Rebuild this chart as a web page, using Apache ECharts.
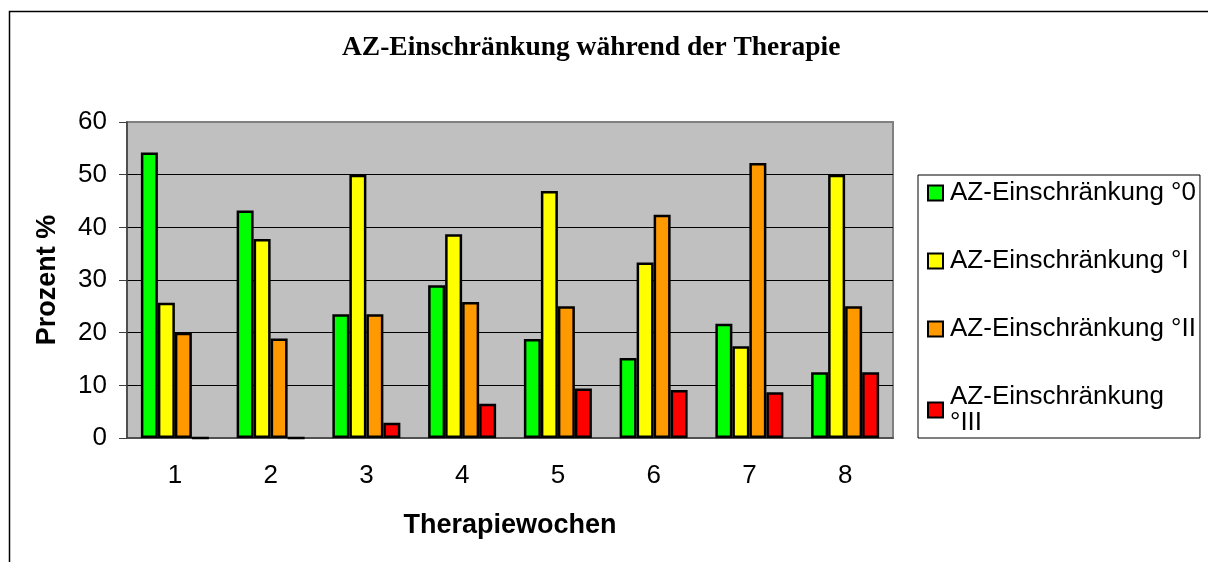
<!DOCTYPE html>
<html>
<head>
<meta charset="utf-8">
<script src="https://cdn.jsdelivr.net/npm/echarts@6/dist/echarts.min.js"></script>
<style>
html,body{margin:0;padding:0;background:#fff;}
#chart{width:1208px;height:562px;}
</style>
</head>
<body>
<div id="chart"></div>
<script>
const categories = ['1','2','3','4','5','6','7','8'];
const seriesNames = ['AZ-Einschränkung °0','AZ-Einschränkung °I','AZ-Einschränkung °II','AZ-Einschränkung °III'];
const grad0 = [54.2, 43.2, 23.5, 29.0, 18.8, 15.2, 21.7, 12.5];
const grad1 = [25.7, 37.8, 50.0, 38.7, 46.9, 33.3, 17.4, 50.0];
const grad2 = [20.0, 18.9, 23.5, 25.8, 25.0, 42.4, 52.2, 25.0];
const grad3 = [0, 0, 2.9, 6.5, 9.4, 9.1, 8.7, 12.5];
const colors = ['#00FF00','#FFFF00','#FF9900','#FF0000'];
const yTicks = {min:0, max:60, interval:10};

const allData = [grad0, grad1, grad2, grad3];
const chart = echarts.init(document.getElementById('chart'));
const font = 'Liberation Sans, Arial, sans-serif';
chart.setOption({
  animation:false,
  backgroundColor:'#fff',
  title:{
    text:'AZ-Einschränkung während der Therapie',
    left:337, top:29,
    textStyle:{fontFamily:'Liberation Serif, Times New Roman, serif', fontWeight:'bold', fontSize:27.5, color:'#000'}
  },
  graphic:[{
    type:'rect', left:7, top:9, z:-1, silent:true,
    shape:{width:1300, height:700},
    style:{fill:'none', stroke:'#000', lineWidth:1.5}
  }],
  legend:{
    orient:'vertical', left:918, top:175,
    padding:[5,4,2,9],
    itemGap:42,
    itemWidth:15, itemHeight:15,
    icon:'rect',
    borderColor:'#000', borderWidth:1,
    backgroundColor:'#fff',
    textStyle:{fontFamily:font, fontSize:26, color:'#000', padding:[0,0,0,2]},
    formatter:function(n){ return n === seriesNames[3] ? 'AZ-Einschränkung\n°III' : n; },
    data:seriesNames.map((n,i)=>({name:n, itemStyle:{color:colors[i], borderColor:'#000', borderWidth:2}}))
  },
  grid:{
    left:127, top:122, right:315, bottom:124,
    show:true, backgroundColor:'#C0C0C0', borderColor:'#808080', borderWidth:2
  },
  xAxis:{
    type:'category', data:categories,
    name:'Therapiewochen', nameLocation:'middle', nameGap:74,
    nameTextStyle:{fontFamily:font, fontWeight:'bold', fontSize:27, color:'#000'},
    axisLine:{lineStyle:{color:'#404040', width:1.5}},
    axisTick:{length:8, lineStyle:{color:'#404040'}},
    axisLabel:{fontFamily:font, fontSize:26, color:'#000', margin:25}
  },
  yAxis:{
    type:'value', min:yTicks.min, max:yTicks.max, interval:yTicks.interval,
    name:'Prozent %', nameLocation:'middle', nameGap:66, nameRotate:90,
    nameTextStyle:{fontFamily:font, fontWeight:'bold', fontSize:27, color:'#000'},
    axisLine:{show:true, lineStyle:{color:'#404040', width:1.5}},
    axisTick:{show:true, length:8, lineStyle:{color:'#404040'}},
    axisLabel:{fontFamily:font, fontSize:26, color:'#000', margin:20},
    splitLine:{show:true, showMinLine:false, showMaxLine:false, lineStyle:{color:'#000', width:1}}
  },
  series:seriesNames.map((n,i)=>({
    name:n, type:'bar', data:allData[i],
    barWidth:17, barGap:'0%',
    itemStyle:{color:colors[i], borderColor:'#000', borderWidth:2.5}
  }))
});
</script>
</body>
</html>
